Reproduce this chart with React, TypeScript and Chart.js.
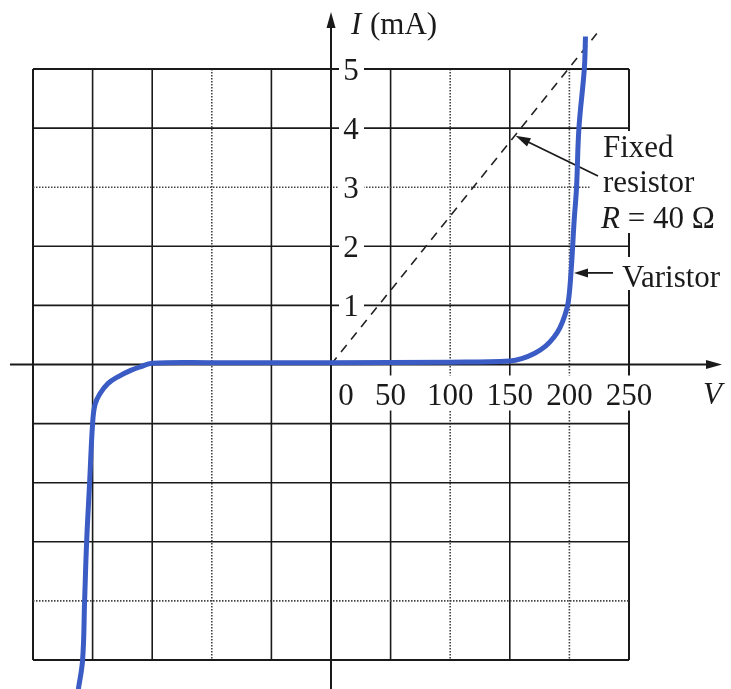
import React, { useEffect, useRef } from 'react';
import { Chart, registerables } from 'chart.js';

Chart.register(...registerables);

// Varistor I–V characteristic (V in volts, I in mA)
const varistorV = [-212, -208.4, -206.7, -205, -202.5, -200, -198, -194, -187, -178, -168, -160, -150, -100, 0, 100, 150, 160, 171, 180, 187, 192, 196, 199, 201.5, 204, 206, 208, 212.5, 213.5];
const varistorI = [-5.5, -5.0, -4.0, -3.0, -2.0, -1.0, -0.68, -0.5, -0.32, -0.2, -0.1, -0.04, 0.02, 0.03, 0.03, 0.04, 0.06, 0.1, 0.19, 0.31, 0.46, 0.62, 0.82, 1.05, 1.6, 2.44, 3.0, 4.0, 5.0, 5.55];

// Fixed resistor R = 40 Ω (dashed line)
const resistorV = [0, 223];
const resistorI = [0, 5.6];

// Axis labels
const xTickLabels = [0, 50, 100, 150, 200, 250];
const yTickLabels = [1, 2, 3, 4, 5];

// Grid
const gridV = [-250, -200, -150, -100, -50, 50, 100, 150, 200, 250];
const gridI = [-5, -4, -3, -2, -1, 1, 2, 3, 4, 5];
const dottedV = [-100, 100, 200];
const dottedI = [3, -4];

const SERIF = '"Liberation Serif", "DejaVu Serif", serif';
const INK = '#1a1a1a';
const BLUE = '#3a5cc4';

function arrowHead(ctx: CanvasRenderingContext2D, tx: number, ty: number, fx: number, fy: number, len: number, half: number) {
  const ang = Math.atan2(ty - fy, tx - fx);
  const bx = tx - len * Math.cos(ang);
  const by = ty - len * Math.sin(ang);
  ctx.beginPath();
  ctx.moveTo(tx, ty);
  ctx.lineTo(bx + half * Math.sin(ang), by - half * Math.cos(ang));
  ctx.lineTo(bx - half * Math.sin(ang), by + half * Math.cos(ang));
  ctx.closePath();
  ctx.fill();
}

const decorPlugin = {
  id: 'decor',
  beforeDatasetsDraw(chart: any) {
    const ctx: CanvasRenderingContext2D = chart.ctx;
    const xs = chart.scales.x;
    const ys = chart.scales.y;
    const px = (v: number) => xs.getPixelForValue(v);
    const py = (i: number) => ys.getPixelForValue(i);
    const x0 = px(0);
    const y0 = py(0);
    const W = chart.width;
    const H = chart.height;

    ctx.save();
    ctx.lineCap = 'butt';

    // grid lines
    const vMin = -250, vMax = 250, iMin = -5, iMax = 5;
    gridV.forEach((v) => {
      const dotted = dottedV.includes(v);
      const border = v === vMin || v === vMax;
      ctx.setLineDash(dotted ? [1.5, 1.5] : []);
      ctx.strokeStyle = dotted ? '#444' : INK;
      ctx.lineWidth = border ? 2 : 1.6;
      ctx.beginPath();
      ctx.moveTo(px(v), py(iMax));
      ctx.lineTo(px(v), py(iMin));
      ctx.stroke();
    });
    gridI.forEach((i) => {
      const dotted = dottedI.includes(i);
      const border = i === iMin || i === iMax;
      ctx.setLineDash(dotted ? [1.5, 1.5] : []);
      ctx.strokeStyle = dotted ? '#444' : INK;
      ctx.lineWidth = border ? 2 : 1.6;
      ctx.beginPath();
      ctx.moveTo(px(vMin), py(i));
      ctx.lineTo(px(vMax), py(i));
      ctx.stroke();
    });
    ctx.setLineDash([]);

    // axes
    ctx.strokeStyle = INK;
    ctx.fillStyle = INK;
    ctx.lineWidth = 2;
    ctx.beginPath();
    ctx.moveTo(x0, H);
    ctx.lineTo(x0, 20);
    ctx.stroke();
    arrowHead(ctx, x0, 12, x0, 40, 16, 4.5);
    ctx.beginPath();
    ctx.moveTo(10, y0);
    ctx.lineTo(712, y0);
    ctx.stroke();
    arrowHead(ctx, 722, y0, 700, y0, 16, 4.5);

    // x tick labels with white background
    ctx.fillStyle = '#fff';
    ctx.fillRect(x0 + 5, y0 + 11, px(250) - x0 + 30, 35);
    ctx.fillStyle = INK;
    ctx.font = `31px ${SERIF}`;
    ctx.textBaseline = 'alphabetic';
    xTickLabels.forEach((v) => {
      ctx.textAlign = 'center';
      const x = v === 0 ? x0 + 15 : px(v);
      ctx.fillText(String(v), x, y0 + 40);
    });

    // y tick labels with white background
    yTickLabels.forEach((i) => {
      const y = py(i);
      ctx.fillStyle = '#fff';
      ctx.fillRect(x0 + 8, y - 14, 25, 28);
      ctx.fillStyle = INK;
      ctx.textAlign = 'center';
      ctx.fillText(String(i), x0 + 20, y + 11);
    });

    // axis titles
    ctx.textAlign = 'left';
    ctx.font = `italic 31px ${SERIF}`;
    ctx.fillText('I', x0 + 20, 34);
    ctx.font = `31px ${SERIF}`;
    ctx.fillText('(mA)', x0 + 39, 34);
    ctx.font = `italic 31px ${SERIF}`;
    ctx.fillText('V', 703, y0 + 39);

    // annotation boxes
    ctx.fillStyle = '#fff';
    ctx.fillRect(590, 131, W - 590, 102);
    ctx.fillRect(619, 257, W - 619, 33);

    ctx.fillStyle = INK;
    ctx.font = `31px ${SERIF}`;
    ctx.fillText('Fixed', 603, 157);
    ctx.fillText('resistor', 603, 192);
    ctx.font = `italic 31px ${SERIF}`;
    ctx.fillText('R', 601, 228);
    const rw = ctx.measureText('R').width;
    ctx.font = `31px ${SERIF}`;
    ctx.fillText(' = 40 Ω', 601 + rw, 228);
    ctx.fillText('Varistor', 622, 287);

    // annotation arrows
    const fx = 598, fy = 176;
    const tx = px(154.8), ty = py(3.87);
    ctx.lineWidth = 1.8;
    ctx.beginPath();
    ctx.moveTo(fx, fy);
    ctx.lineTo(tx + 8, ty + 4);
    ctx.stroke();
    arrowHead(ctx, tx, ty, fx, fy, 15, 4.5);

    const vy = py(1.55);
    ctx.beginPath();
    ctx.moveTo(613, vy);
    ctx.lineTo(582, vy);
    ctx.stroke();
    arrowHead(ctx, 574, vy, 613, vy, 14, 4.5);

    ctx.restore();
  },
};

export default function App() {
  const canvasRef = useRef<HTMLCanvasElement | null>(null);

  useEffect(() => {
    if (!canvasRef.current) return;
    const chart = new Chart(canvasRef.current, {
      type: 'scatter',
      data: {
        datasets: [
          {
            label: 'Varistor',
            data: varistorV.map((v, k) => ({ x: v, y: varistorI[k] })),
            showLine: true,
            borderColor: BLUE,
            borderWidth: 5,
            pointRadius: 0,
            tension: 0.4,
            capBezierPoints: false,
            clip: false,
            borderCapStyle: 'butt',
            borderJoinStyle: 'round',
          } as any,
          {
            label: 'Fixed resistor R = 40 Ω',
            data: resistorV.map((v, k) => ({ x: v, y: resistorI[k] })),
            showLine: true,
            borderColor: '#222',
            borderWidth: 1.6,
            borderDash: [9, 7],
            pointRadius: 0,
            clip: false,
          } as any,
        ],
      },
      options: {
        responsive: false,
        maintainAspectRatio: false,
        animation: false,
        events: [],
        layout: { padding: { left: 33, right: 102, top: 69, bottom: 29 } },
        scales: {
          x: { type: 'linear', min: -250, max: 250, display: false },
          y: { type: 'linear', min: -5, max: 5, display: false },
        },
        plugins: {
          legend: { display: false },
          tooltip: { enabled: false },
          title: { display: false },
        },
      },
      plugins: [decorPlugin],
    });
    return () => chart.destroy();
  }, []);

  return (
    <div style={{ position: 'fixed', left: 0, top: 0, width: 731, height: 689, background: '#fff' }}>
      <canvas ref={canvasRef} width={731} height={689} style={{ display: 'block' }} />
    </div>
  );
}
